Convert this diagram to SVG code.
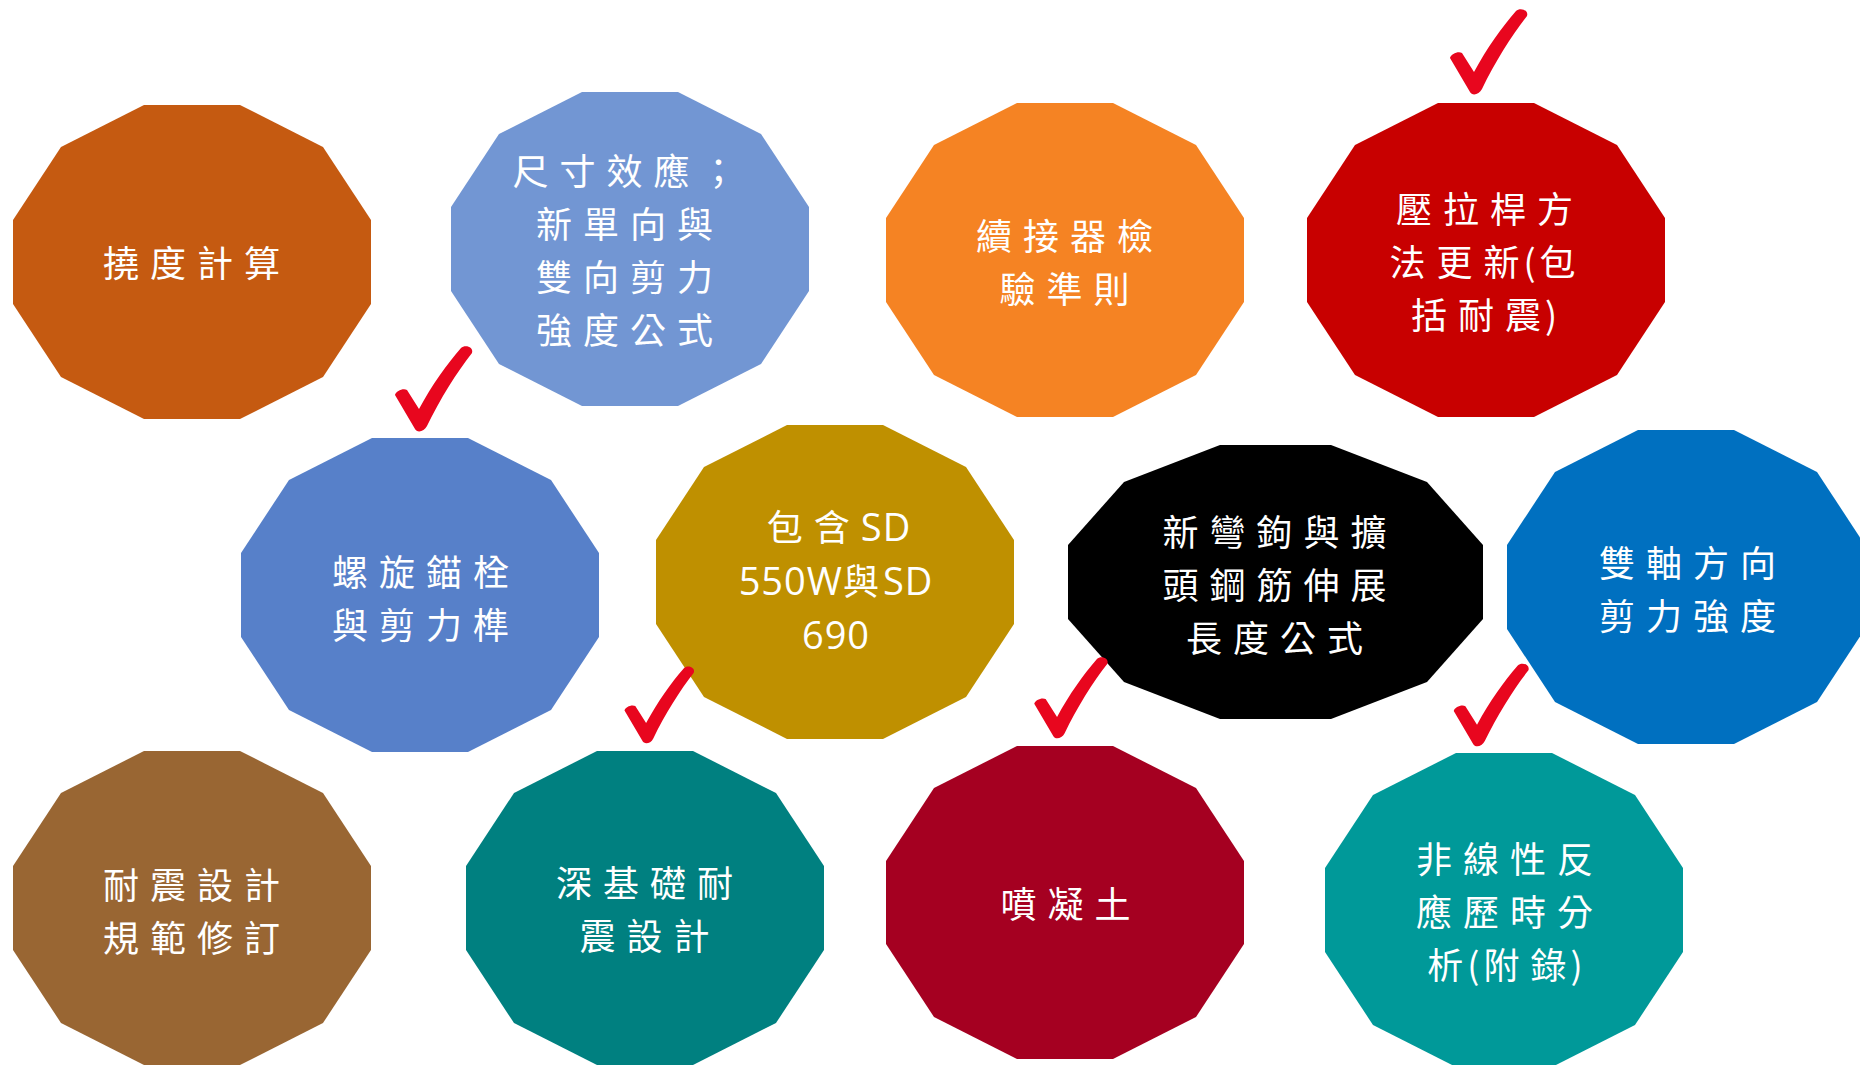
<svg xmlns="http://www.w3.org/2000/svg" xmlns:xlink="http://www.w3.org/1999/xlink" width="1860" height="1065" viewBox="0 0 1860 1065">
<style>
.t{font-family:"Noto Sans CJK TC","Noto Sans CJK SC",sans-serif;font-size:36px;fill:#FFFFFF;text-anchor:middle;letter-spacing:11px}
.lat{font-family:"Open Sans","Noto Sans",sans-serif;font-size:38px;letter-spacing:1px}
.tight{letter-spacing:4px}
.chk{fill:#E8061E}
</style>
<defs>
<path id="check" d="M -25 -35 C -24 -39 -17 -42 -13 -40 L -1 -21 C 12 -45 27 -66 41 -82 C 45 -86 54 -83 52 -77 C 37 -58 20 -31 7 -4 C 4 2 -3 3 -5 -1 Z"/>
</defs>
<rect width="1860" height="1065" fill="#FFFFFF"/>

<g id="node-deflection">
<polygon fill="#C55A11" points="144,105 240,105 323,147 371,220 371,304 323,377 240,419 144,419 61,377 13,304 13,220 61,147"/>
<text class="t" x="197" y="277">撓度計算</text>
</g>

<g id="node-size-effect">
<polygon fill="#7296D3" points="582,92 678,92 761,134 809,207 809,291 761,364 678,406 582,406 499,364 451,291 451,207 499,134"/>
<text class="t"><tspan x="630" y="185">尺寸效應；</tspan><tspan x="630" y="238">新單向與</tspan><tspan x="630" y="291">雙向剪力</tspan><tspan x="630" y="344">強度公式</tspan></text>
</g>

<g id="node-coupler">
<polygon fill="#F58323" points="1017,103 1113,103 1196,145 1244,218 1244,302 1196,375 1113,417 1017,417 934,375 886,302 886,218 934,145"/>
<text class="t"><tspan x="1070" y="250">續接器檢</tspan><tspan x="1070" y="303">驗準則</tspan></text>
</g>

<g id="node-strut-tie">
<polygon fill="#C80000" points="1438,103 1534,103 1617,145 1665,218 1665,302 1617,375 1534,417 1438,417 1355,375 1307,302 1307,218 1355,145"/>
<text class="t"><tspan x="1490" y="223">壓拉桿方</tspan><tspan x="1488" y="276">法更<tspan class="tight">新(</tspan>包</tspan><tspan x="1486" y="329">括耐<tspan class="tight">震)</tspan></tspan></text>
</g>

<g id="node-anchor">
<polygon fill="#5780C9" points="372,438 468,438 551,480 599,553 599,637 551,710 468,752 372,752 289,710 241,637 241,553 289,480"/>
<text class="t"><tspan x="426" y="586">螺旋錨栓</tspan><tspan x="426" y="639">與剪力榫</tspan></text>
</g>

<g id="node-sd">
<polygon fill="#BF9000" points="787,425 883,425 966,467 1014,540 1014,624 966,697 883,739 787,739 704,697 656,624 656,540 704,467"/>
<text class="t"><tspan x="839" y="541">包含<tspan class="lat">SD</tspan></tspan><tspan x="836" y="595"><tspan class="lat">550W</tspan><tspan class="tight">與</tspan><tspan class="lat">SD</tspan></tspan><tspan class="lat" x="836" y="649">690</tspan></text>
</g>

<g id="node-hook">
<polygon fill="#000000" points="1220,445 1331,445 1427,482 1483,545 1483,619 1427,682 1331,719 1220,719 1124,682 1068,619 1068,545 1124,482"/>
<text class="t"><tspan x="1280" y="546">新彎鉤與擴</tspan><tspan x="1280" y="599">頭鋼筋伸展</tspan><tspan x="1280" y="652">長度公式</tspan></text>
</g>

<g id="node-biaxial">
<polygon fill="#0070C0" points="1638,430 1734,430 1817,472 1865,545 1865,629 1817,702 1734,744 1638,744 1555,702 1507,629 1507,545 1555,472"/>
<text class="t"><tspan x="1693" y="577">雙軸方向</tspan><tspan x="1693" y="630">剪力強度</tspan></text>
</g>

<g id="node-seismic-code">
<polygon fill="#996633" points="144,751 240,751 323,793 371,866 371,950 323,1023 240,1065 144,1065 61,1023 13,950 13,866 61,793"/>
<text class="t"><tspan x="197" y="899">耐震設計</tspan><tspan x="197" y="952">規範修訂</tspan></text>
</g>

<g id="node-deep-foundation">
<polygon fill="#008080" points="597,751 693,751 776,793 824,866 824,950 776,1023 693,1065 597,1065 514,1023 466,950 466,866 514,793"/>
<text class="t"><tspan x="650" y="897">深基礎耐</tspan><tspan x="650" y="950">震設計</tspan></text>
</g>

<g id="node-shotcrete">
<polygon fill="#A50021" points="1017,746 1113,746 1196,788 1244,861 1244,944 1196,1017 1113,1059 1017,1059 934,1017 886,944 886,861 934,788"/>
<text class="t" x="1071" y="918">噴凝土</text>
</g>

<g id="node-nonlinear">
<polygon fill="#009999" points="1456,753 1552,753 1635,795 1683,868 1683,952 1635,1025 1552,1067 1456,1067 1373,1025 1325,952 1325,868 1373,795"/>
<text class="t"><tspan x="1510" y="873">非線性反</tspan><tspan x="1510" y="926">應歷時分</tspan><tspan x="1507" y="979"><tspan class="tight">析(</tspan>附<tspan class="tight">錄)</tspan></tspan></text>
</g>

<g id="checkmarks">
<use xlink:href="#check" class="chk" transform="translate(1475,93)"/>
<use xlink:href="#check" class="chk" transform="translate(420,430)"/>
<use xlink:href="#check" class="chk" transform="translate(647,742) scale(0.9)"/>
<use xlink:href="#check" class="chk" transform="translate(1058,737) scale(0.95)"/>
<use xlink:href="#check" class="chk" transform="translate(1478,745) scale(0.97)"/>
</g>
</svg>
